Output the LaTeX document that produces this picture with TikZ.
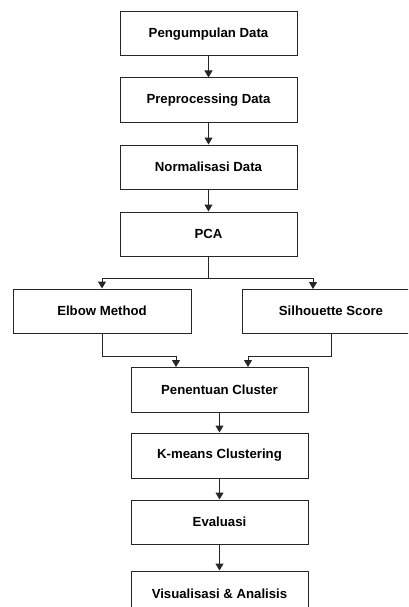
\documentclass[tikz,border=0pt]{standalone}
\usepackage{fontspec}
\setmainfont{Liberation Sans}
\usetikzlibrary{arrows.meta}
\begin{document}
\begin{tikzpicture}[x=1pt,y=-1pt,
  box/.style={draw=black!85, line width=1pt, fill=white, inner sep=0pt,
    font=\fontsize{13.2}{15}\selectfont\bfseries},
  arr/.style={draw=black!85, line width=1pt, -{Triangle[width=8pt,length=7pt]}},
  ln/.style={draw=black!85, line width=1pt}]
\clip (0,0) rectangle (408,607);
\useasboundingbox (0,0) rectangle (408,607);
\fill[white] (0,0) rectangle (408,607);
% top column
\node[box, minimum width=177pt, minimum height=44pt] (b1) at (208.5,34) {Pengumpulan Data};
\node[box, minimum width=177pt, minimum height=44pt] (b2) at (208.5,100) {Preprocessing Data};
\node[box, minimum width=177pt, minimum height=44pt] (b3) at (208.5,167) {Normalisasi Data};
\node[box, minimum width=177pt, minimum height=44pt] (b4) at (208.5,234) {PCA};
% branches
\node[box, minimum width=178pt, minimum height=44pt] (elbow) at (102,311) {Elbow Method};
\node[box, minimum width=178pt, minimum height=44pt] (sil) at (331,311) {Silhouette Score};
% lower column
\node[box, minimum width=177pt, minimum height=45pt] (pen) at (219.5,389.5) {Penentuan Cluster};
\node[box, minimum width=177pt, minimum height=45pt] (km) at (219.5,455.5) {K-means Clustering};
\node[box, minimum width=177pt, minimum height=44pt] (ev) at (219.5,522) {Evaluasi};
\node[box, minimum width=177pt, minimum height=45pt] (vis) at (219.5,593.5) {Visualisasi \& Analisis};
% connector points
\coordinate (j) at (208.5,278);
\coordinate (silin) at (313,289);
\coordinate (penA) at (176,367);
\coordinate (penB) at (248,367);
% connectors
\draw[arr] (b1) -- (b2);
\draw[arr] (b2) -- (b3);
\draw[arr] (b3) -- (b4);
\draw[ln] (b4.south) -- (j);
\draw[arr] (j) -| (elbow.north);
\draw[arr] (j) -| (silin);
\draw[arr] (elbow.south) -- ++(0,23) -| (penA);
\draw[arr] (sil.south) -- ++(0,23) -| (penB);
\draw[arr] (pen) -- (km);
\draw[arr] (km) -- (ev);
\draw[arr] (ev) -- (vis);
\end{tikzpicture}
\end{document}
